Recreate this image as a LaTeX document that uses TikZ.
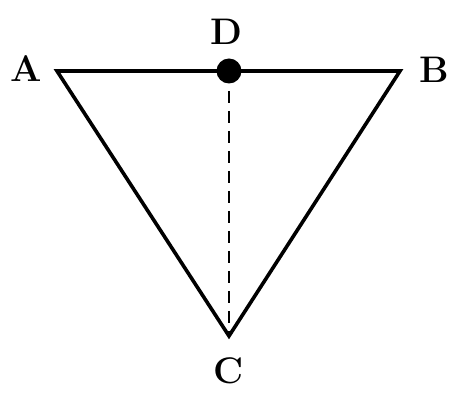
\documentclass[tikz,border=0pt]{standalone}
\begin{document}
\begin{tikzpicture}[x=1pt,y=1pt,
  edge/.style={line width=3.6pt,line join=miter},
  lbl/.style={font=\fontsize{37}{37}\selectfont\bfseries,inner sep=0pt}]
\useasboundingbox (0,0) rectangle (456,394);
\coordinate (A) at (57,323);
\coordinate (B) at (400,323);
\coordinate (C) at (229,58);
\coordinate (D) at (229,323);
\draw[edge] (A) -- (B) -- (C) -- cycle;
\draw[line width=2.2pt,dash pattern=on 12pt off 8pt] (D) -- (C);
\fill (D) circle (12.5pt);
\node[lbl] (la) at (26,325) {A};
\node[lbl] (lb) at (434,324) {B};
\node[lbl] (ld) at (226,362) {D};
\node[lbl] (lc) at (229,23) {C};
\end{tikzpicture}
\end{document}
